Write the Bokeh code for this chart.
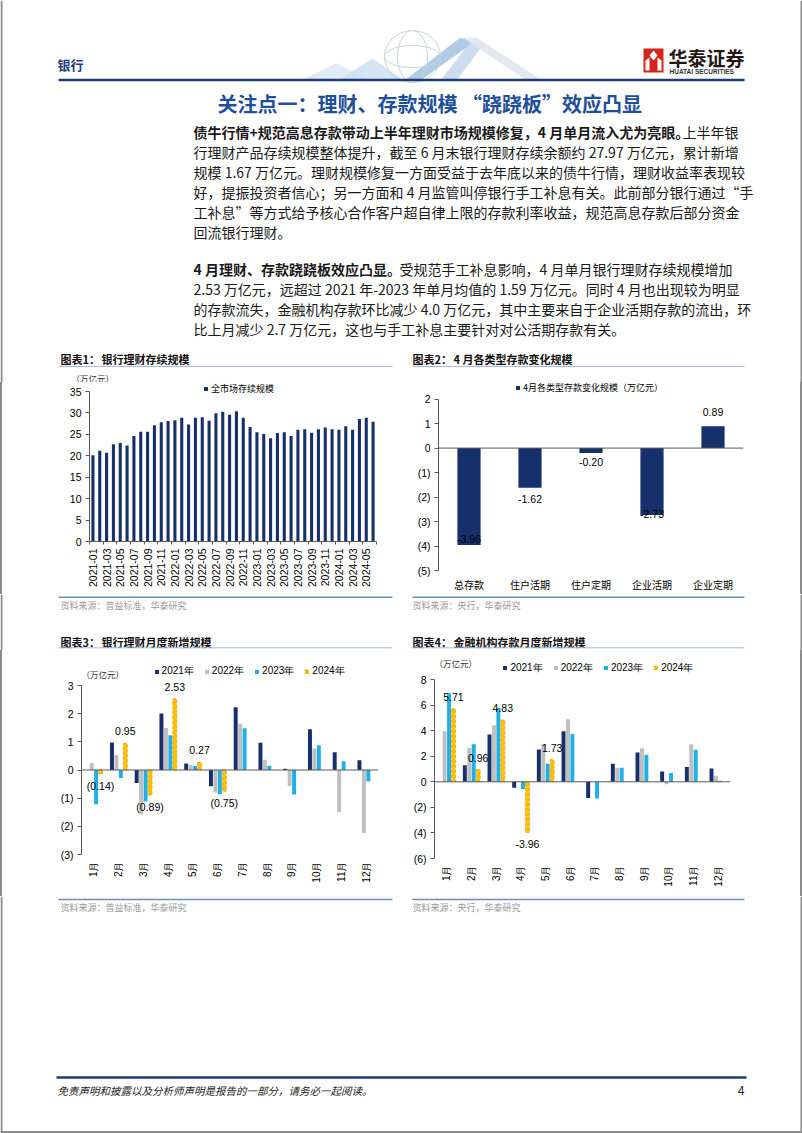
import math
from bokeh.plotting import figure
from bokeh.models import (Range1d, FactorRange, FixedTicker, Span, Legend, LegendItem,
                          Label, ColumnDataSource, Spacer)
from bokeh.layouts import column, row
from bokeh.transform import dodge
from bokeh.core.properties import value
from bokeh.embed import file_html
from bokeh.resources import INLINE

nan = float("nan")

# ---------------- data ----------------
c1_months = ["2021-01", "2021-02", "2021-03", "2021-04", "2021-05", "2021-06",
             "2021-07", "2021-08", "2021-09", "2021-10", "2021-11", "2021-12",
             "2022-01", "2022-02", "2022-03", "2022-04", "2022-05", "2022-06",
             "2022-07", "2022-08", "2022-09", "2022-10", "2022-11", "2022-12",
             "2023-01", "2023-02", "2023-03", "2023-04", "2023-05", "2023-06",
             "2023-07", "2023-08", "2023-09", "2023-10", "2023-11", "2023-12",
             "2024-01", "2024-02", "2024-03", "2024-04", "2024-05", "2024-06"]
c1_values = [20.1, 21.2, 20.7, 22.7, 23.0, 22.4, 24.6, 25.6, 25.6, 27.1, 27.8, 28.1,
             28.3, 28.9, 27.3, 28.9, 29.0, 28.2, 29.9, 30.3, 29.6, 30.4, 28.9, 26.7,
             25.5, 25.1, 24.1, 25.3, 25.5, 24.6, 26.1, 26.2, 25.4, 26.2, 26.6, 26.2,
             26.1, 26.9, 26.1, 28.6, 28.9, 27.97]
c1_series = "全市场存续规模"

c2_cats = ["总存款", "住户活期", "住户定期", "企业活期", "企业定期"]
c2_values = [-3.96, -1.62, -0.20, -2.73, 0.89]
c2_series = "4月各类型存款变化规模（万亿元）"

months = ["1月", "2月", "3月", "4月", "5月", "6月", "7月", "8月", "9月", "10月", "11月", "12月"]
years = ["2021年", "2022年", "2023年", "2024年"]

c3_2021 = [nan, 0.98, -0.46, 2.01, 0.23, -0.58, 2.23, 0.97, 0.04, 1.45, 0.63, 0.35]
c3_2022 = [0.25, 0.53, -1.58, 1.49, 0.19, -0.80, 1.64, 0.36, -0.57, 0.76, -1.50, -2.24]
c3_2023 = [-1.22, -0.28, -1.12, 1.23, 0.14, -0.86, 1.48, 0.15, -0.87, 0.88, 0.31, -0.40]
c3_2024 = [-0.14, 0.95, -0.89, 2.53, 0.27, -0.75]

c4_2021 = [nan, 1.29, 3.70, -0.47, 2.52, 3.96, -1.26, 1.41, 2.29, 0.80, 1.16, 1.04]
c4_2022 = [3.95, 2.65, 4.43, nan, 2.95, 4.89, nan, 1.10, 2.62, -0.20, 2.93, 0.48]
c4_2023 = [6.93, 2.93, 5.78, -0.57, 1.41, 3.74, -1.30, 1.10, 2.12, 0.69, 2.51, 0.09]
c4_2024 = [5.71, 0.96, 4.83, -3.96, 1.73]

# ---------------- styles ----------------
NAVY = "#16306C"
GRAY = "#BFBFBF"
CYAN = "#1FB0E8"
GOLD = "#FFC000"
GOLD_LINE = "#F0A22E"
AXIS = "#595959"
BORDER = "#8C8C8C"
HDR = "#1E3C78"
CJK = "Noto Sans CJK SC"
LAT = "Liberation Sans"


def strip(h):
    p = figure(width=802, height=h, x_range=Range1d(0, 802), y_range=Range1d(h, 0),
               x_axis_type=None, y_axis_type=None, toolbar_location=None,
               output_backend="svg", min_border=0)
    p.outline_line_color = None
    p.segment(x0=[1, 801], y0=[0, 0], x1=[1, 801], y1=[h, h], line_color=BORDER, line_width=2)
    return p


def txt(p, x, y, s, size, color="#1a1a1a", bold=False, italic=False, font=CJK, align="left"):
    style = "normal"
    if bold:
        style = "bold"
    elif italic:
        style = "italic"
    p.text(x=[x], y=[y], text=[s], text_font=value(font), text_font_size=f"{size}px",
           text_color=color, text_font_style=style, text_align=align, text_baseline="middle")


def hline(p, x0, x1, y, color, w):
    p.segment(x0=[x0], y0=[y], x1=[x1], y1=[y], line_color=color, line_width=w)


def chart(w, h, xr, yr, ml, mr, mt, mb):
    p = figure(width=w, height=h, x_range=xr, y_range=yr, toolbar_location=None,
               output_backend="svg", min_border_left=ml, min_border_right=mr,
               min_border_top=mt, min_border_bottom=mb, frame_align=False)
    p.grid.visible = False
    p.outline_line_color = None
    return p


def style_y(p, ticks, overrides=None):
    ax = p.yaxis[0]
    ax.ticker = FixedTicker(ticks=ticks)
    ax.bounds = (min(ticks), max(ticks))
    ax.major_tick_out = 4
    ax.major_tick_in = 0
    ax.minor_tick_line_color = None
    ax.axis_line_color = AXIS
    ax.major_tick_line_color = AXIS
    ax.major_label_text_font = LAT
    ax.major_label_text_font_size = "10.5px"
    ax.major_label_text_color = "#000000"
    ax.major_label_standoff = 4
    if overrides:
        ax.major_label_overrides = overrides


def neg_fmt(ticks):
    return {t: f"({abs(t)})" for t in ticks if t < 0}


def legend(p, items, loc, spacing=10, size="9px", font=CJK):
    lg = Legend(items=items, location=loc, orientation="horizontal", glyph_width=5,
                glyph_height=5, label_height=10, label_standoff=3, padding=0, margin=0,
                spacing=spacing, border_line_color=None, background_fill_alpha=0,
                label_text_font=font, label_text_font_size=size, label_text_color="#000000")
    p.add_layout(lg)


def unit_label(p, x, y):
    p.add_layout(Label(x=x, y=y, x_units="screen", y_units="screen", text="（万亿元）",
                       text_font=CJK, text_font_size="8.5px", text_baseline="middle",
                       text_color="#333333"))

# ---------------- top strip (page y 0..382) ----------------
top = strip(382)
# decoration
top.patches(xs=[[300, 336, 372], [338, 372, 404], [404, 460, 473, 420], [440, 471, 483, 456],
                [462, 476, 542, 526]],
            ys=[[80, 63, 80], [80, 58, 80], [80, 37, 42, 80], [80, 40, 44, 80], [37, 37, 80, 80]],
            fill_color=["#DCE9F6", "#CCE0F2", "#A3C2E2", "#C3D7EC", "#E1E5EC"],
            fill_alpha=0.85, line_color=None)
top.ellipse(x=[412, 412, 412], y=[56, 56, 56], width=[56, 30, 56], height=[52, 52, 22],
            fill_color=None, line_color="#CDD2DA", line_width=1)
# logo
top.quad(left=[643], right=[663], top=[48], bottom=[72], fill_color="#D3261D", line_color=None)
top.patches(xs=[[653, 657, 653, 649], [645, 649, 649, 645], [657, 661, 661, 657]],
            ys=[[50, 55, 60, 55], [60, 57, 70, 70], [57, 60, 70, 70]],
            fill_color="white", line_color=None)
txt(top, 668, 57, "华泰证券", 19, color="#231815", bold=True)
txt(top, 669, 71, "HUATAI SECURITIES", 6.5, color="#333333", bold=True, font=LAT)
txt(top, 57, 64, "银行", 13, color=HDR, bold=True)
hline(top, 58, 744, 79.5, HDR, 2.5)
# title
txt(top, 217, 103, "关注点一：理财、存款规模 “跷跷板”效应凸显", 20, color="#1F4E9A", bold=True)
# paragraph 1
P = 193
txt(top, P, 131, "债牛行情+规范高息存款带动上半年理财市场规模修复，4 月单月流入尤为亮眼。", 14, bold=True)
txt(top, 682, 131, "上半年银", 14)
p1_lines = ["行理财产品存续规模整体提升，截至 6 月末银行理财存续余额约 27.97 万亿元，累计新增",
            "规模 1.67 万亿元。理财规模修复一方面受益于去年底以来的债牛行情，理财收益率表现较",
            "好，提振投资者信心；另一方面和 4 月监管叫停银行手工补息有关。此前部分银行通过“手",
            "工补息”等方式给予核心合作客户超自律上限的存款利率收益，规范高息存款后部分资金",
            "回流银行理财。"]
for i, s in enumerate(p1_lines):
    txt(top, P, 151 + 20 * i, s, 14)
# paragraph 2
txt(top, P, 268, "4 月理财、存款跷跷板效应凸显。", 14, bold=True)
txt(top, 399, 268, "受规范手工补息影响，4 月单月银行理财存续规模增加", 14)
p2_lines = ["2.53 万亿元，远超过 2021 年-2023 年单月均值的 1.59 万亿元。同时 4 月也出现较为明显",
            "的存款流失，金融机构存款环比减少 4.0 万亿元，其中主要来自于企业活期存款的流出，环",
            "比上月减少 2.7 万亿元，这也与手工补息主要针对对公活期存款有关。"]
for i, s in enumerate(p2_lines):
    txt(top, P, 288 + 20 * i, s, 14)
# chart titles row 1
txt(top, 60, 358, "图表1：", 11, bold=True, color="#111111")
txt(top, 101, 358, "银行理财存续规模", 11, bold=True, color="#111111")
txt(top, 412, 358, "图表2：", 11, bold=True, color="#111111")
txt(top, 453, 358, "4 月各类型存款变化规模", 11, bold=True, color="#111111")
hline(top, 58, 392, 366, "#A9BBD5", 1)
hline(top, 412, 744, 366, "#A9BBD5", 1)
txt(top, 71, 377, "（万亿元）", 8.5, color="#333333")

# ---------------- chart 1 (page y 382..594) ----------------
n1 = len(c1_months)
# frame: 159 px tall, 150 px for 0..35
p1 = chart(399, 212, Range1d(-0.5, n1 - 0.5), Range1d(0, 35 * 159 / 150), 87, 25, 0, 53)
s1 = ColumnDataSource(dict(x=list(range(n1)), v=c1_values))
r1 = p1.vbar(x="x", top="v", width=0.45, source=s1, fill_color=NAVY, line_color=None)
style_y(p1, list(range(0, 36, 5)))
xa = p1.xaxis[0]
xa.ticker = FixedTicker(ticks=list(range(0, n1, 2)),
                        minor_ticks=[i - 0.5 for i in range(0, n1 + 1, 2)])
xa.major_label_overrides = {i: c1_months[i] for i in range(0, n1, 2)}
xa.major_tick_out = 0
xa.major_tick_in = 0
xa.major_tick_line_color = None
xa.minor_tick_out = 3
xa.minor_tick_in = 0
xa.minor_tick_line_color = AXIS
xa.axis_line_color = AXIS
xa.major_label_orientation = math.pi / 2
xa.major_label_standoff = 4
xa.major_label_text_font = LAT
xa.major_label_text_font_size = "10.5px"
xa.major_label_text_color = "#000000"
legend(p1, [LegendItem(label=c1_series, renderers=[r1])], (114, 146))

# ---------------- chart 2 ----------------
# frame: 192 px tall, 25 px per unit, bottom at -5
p2 = chart(399, 212, FactorRange(*c2_cats), Range1d(-5, -5 + 192 / 25), 37, 57, 0, 20)
c2_label_offsets = [-6, 11, 9, -1, -14]
s2 = ColumnDataSource(dict(c=c2_cats, v=c2_values, lab=[f"{v:.2f}" for v in c2_values],
                           off=c2_label_offsets))
r2 = p2.vbar(x="c", top="v", width=0.38, source=s2, fill_color=NAVY, line_color=None)
p2.add_layout(Span(location=0, dimension="width", line_color=AXIS, line_width=1))
p2.text(x="c", y="v", text="lab", y_offset="off", source=s2, text_font=value(LAT),
        text_font_size="10.5px", text_align="center", text_baseline="middle", text_color="#000000")
style_y(p2, list(range(-5, 3)), neg_fmt(list(range(-5, 3))))
xa = p2.xaxis[0]
xa.axis_line_color = None
xa.major_tick_line_color = None
xa.major_tick_out = 0
xa.major_label_standoff = 6
xa.major_label_text_font = CJK
xa.major_label_text_font_size = "10px"
xa.major_label_text_color = "#000000"
legend(p2, [LegendItem(label=c2_series, renderers=[r2])], (77, 176))

# ---------------- mid strip (page y 594..650) ----------------
mid = strip(56)
hline(mid, 58, 392, 2.7, "#6F8DB8", 1.5)
hline(mid, 412, 744, 2.7, "#6F8DB8", 1.5)
txt(mid, 60, 11, "资料来源：普益标准，华泰研究", 9, color="#9A9A9A")
txt(mid, 412, 11, "资料来源：央行，华泰研究", 9, color="#9A9A9A")
txt(mid, 60, 47.5, "图表3：", 11, bold=True, color="#111111")
txt(mid, 101, 47.5, "银行理财月度新增规模", 11, bold=True, color="#111111")
txt(mid, 412, 47.5, "图表4：", 11, bold=True, color="#111111")
txt(mid, 453, 47.5, "金融机构存款月度新增规模", 11, bold=True, color="#111111")
hline(mid, 58, 392, 53.3, "#A9BBD5", 1)
hline(mid, 412, 744, 53.3, "#A9BBD5", 1)


# ---------------- charts 3 & 4 ----------------
def monthly(p, series, lab_vals, lab_fmt, ticks, loc, unit_xy):
    offs = [-0.27, -0.09, 0.09, 0.27]
    items = []
    for (name, vals, col), off in zip(series, offs):
        src = ColumnDataSource(dict(m=months[:len(vals)], v=vals))
        kw = dict(fill_color=col, line_color=None)
        if col == GOLD:
            kw = dict(fill_color=col, line_color=GOLD_LINE, line_dash="3 2", line_width=0.9)
        r = p.vbar(x=dodge("m", off, range=p.x_range), top="v", width=0.16, source=src, **kw)
        items.append(LegendItem(label=name, renderers=[r]))
    ls = ColumnDataSource(dict(m=months[:len(lab_vals)], v=lab_vals,
                               lab=[lab_fmt(v) for v in lab_vals],
                               off=[-12 if v >= 0 else 12 for v in lab_vals]))
    p.text(x=dodge("m", 0.27, range=p.x_range), y="v", text="lab", y_offset="off", source=ls,
           text_font=value(LAT), text_font_size="10.5px", text_align="center",
           text_baseline="middle", text_color="#000000")
    p.add_layout(Span(location=0, dimension="width", line_color=AXIS, line_width=1))
    style_y(p, ticks, neg_fmt(ticks))
    xa = p.xaxis[0]
    xa.axis_line_color = None
    xa.major_tick_line_color = None
    xa.major_tick_out = 0
    xa.major_label_standoff = 7
    xa.major_label_orientation = math.pi / 2
    xa.major_label_text_font = LAT
    xa.major_label_text_font_size = "10px"
    xa.major_label_text_color = "#000000"
    legend(p, items, loc, spacing=10, size="10px", font=LAT)
    unit_label(p, *unit_xy)


# chart 3 frame: 202 px tall, 169 px for -3..3
p3 = chart(399, 246, FactorRange(*months), Range1d(-3, -3 + 202 * 6 / 169), 79, 23, 2, 42)
monthly(p3, [(years[0], c3_2021, NAVY), (years[1], c3_2022, GRAY), (years[2], c3_2023, CYAN),
             (years[3], c3_2024, GOLD)],
        c3_2024, lambda v: f"({abs(v):.2f})" if v < 0 else f"{v:.2f}",
        list(range(-3, 4)), (72.6, 175.7), (0, 181))

# chart 4 frame: 206 px tall, 179 px for -6..8
p4 = chart(399, 246, FactorRange(*months), Range1d(-6, -6 + 206 * 14 / 179), 33, 70, 2, 38)
monthly(p4, [(years[0], c4_2021, NAVY), (years[1], c4_2022, GRAY), (years[2], c4_2023, CYAN),
             (years[3], c4_2024, GOLD)],
        c4_2024, lambda v: f"{v:.2f}",
        list(range(-6, 9, 2)), (68.4, 183.3), (0, 196))

# ---------------- bottom strip (page y 896..1133) ----------------
bot = strip(237)
hline(bot, 58, 392, 3, "#6F8DB8", 1.5)
hline(bot, 412, 744, 3, "#6F8DB8", 1.5)
txt(bot, 60, 11, "资料来源：普益标准，华泰研究", 9, color="#9A9A9A")
txt(bot, 412, 11, "资料来源：央行，华泰研究", 9, color="#9A9A9A")
hline(bot, 56, 746, 181, HDR, 2.5)
txt(bot, 57, 194, "免责声明和披露以及分析师声明是报告的一部分，请务必一起阅读。", 10.5,
    color="#222222", italic=True)
txt(bot, 744, 194, "4", 12, color="#222222", font=LAT, align="right")
hline(bot, 0, 802, 235.5, BORDER, 2)


def side(h):
    return Spacer(width=2, height=h, styles={"background-color": BORDER})


page = column(top,
              row(side(212), p1, p2, side(212)),
              mid,
              row(side(246), p3, p4, side(246)),
              bot)

open("out.html", "w").write(file_html(page, INLINE))
